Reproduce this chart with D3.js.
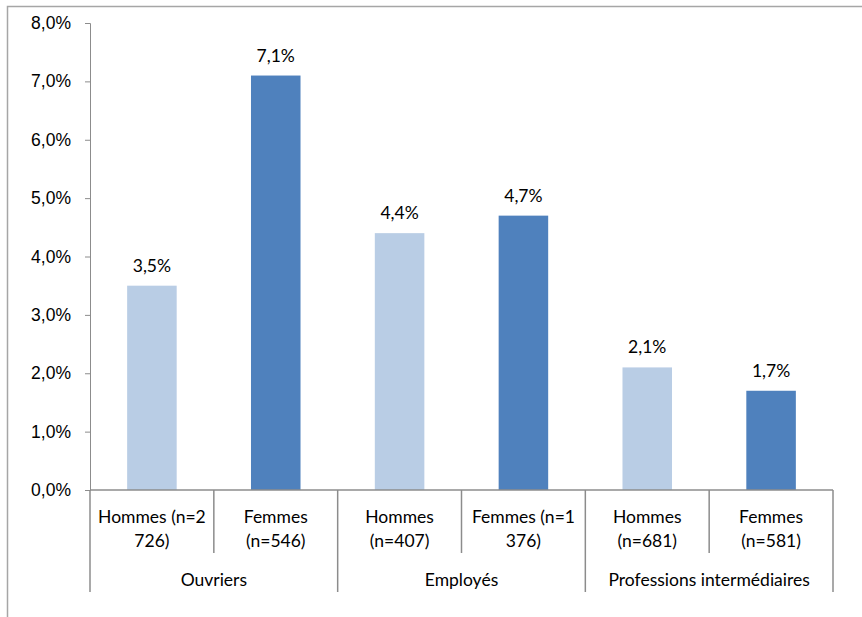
<!DOCTYPE html>
<html>
<head>
<meta charset="utf-8">
<script src="https://cdn.jsdelivr.net/npm/d3@7/dist/d3.min.js"></script>
<style>
  html, body { margin: 0; padding: 0; background: #fff; }
  svg { display: block; font-family: Lato, "Open Sans", sans-serif; }
</style>
</head>
<body>
<svg id="chart" width="862" height="617"></svg>
<script>
// Data: share per occupational group and sex
const groups = ["Ouvriers", "Employés", "Professions intermédiaires"];
const subLabels = [
  ["Hommes (n=2", "726)"], ["Femmes", "(n=546)"],
  ["Hommes", "(n=407)"], ["Femmes (n=1", "376)"],
  ["Hommes", "(n=681)"], ["Femmes", "(n=581)"]
];
const sexes = ["Hommes", "Femmes", "Hommes", "Femmes", "Hommes", "Femmes"];
const values = [3.5, 7.1, 4.4, 4.7, 2.1, 1.7];
const yTicks = [0, 1, 2, 3, 4, 5, 6, 7, 8];

const colors = { Hommes: "#B9CDE5", Femmes: "#4F81BD" };
const axisColor = "#8C8C8C";
const fontSize = "17.5px";
const fmt = v => v.toFixed(1).replace(".", ",") + "%";

const svg = d3.select("#chart");
const m = { left: 90, right: 833, top: 23, bottom: 490 };

// outer frame
svg.append("path")
  .attr("d", "M7.5,617 V6.5 H862")
  .attr("fill", "none").attr("stroke", "#A6A6A6").attr("stroke-width", 1.5);

const x = d3.scaleBand().domain(d3.range(values.length)).range([m.left, m.right]).paddingInner(0).paddingOuter(0);
const y = d3.scaleLinear().domain([0, 8]).range([m.bottom, m.top]);

// y axis
const yAxis = svg.append("g").attr("transform", `translate(${m.left},0)`)
  .call(d3.axisLeft(y).tickValues(yTicks).tickFormat(fmt).tickSize(5).tickPadding(14));
yAxis.select(".domain").attr("stroke", axisColor);
yAxis.selectAll(".tick line").attr("stroke", axisColor);
yAxis.selectAll(".tick text").attr("fill", "#000").style("font-size", fontSize);

// bars
const bw = x.bandwidth() * 0.4;
svg.append("g").selectAll("rect").data(values).join("rect")
  .attr("x", (d, i) => x(i) + (x.bandwidth() - bw) / 2)
  .attr("width", bw)
  .attr("y", d => y(d))
  .attr("height", d => y(0) - y(d))
  .attr("fill", (d, i) => colors[sexes[i]]);

// value labels
svg.append("g").selectAll("text").data(values).join("text")
  .attr("x", (d, i) => x(i) + x.bandwidth() / 2)
  .attr("y", d => y(d) - 14)
  .attr("text-anchor", "middle")
  .style("font-size", fontSize)
  .text(fmt);

// category axis (two levels)
const cat = svg.append("g");
cat.append("line")
  .attr("x1", m.left).attr("x2", m.right)
  .attr("y1", y(0)).attr("y2", y(0))
  .attr("stroke", axisColor).attr("stroke-width", 1.5);

// sub-category dividers
d3.range(values.length + 1).forEach(i => {
  const xp = i < values.length ? x(i) : m.right;
  const isGroupEdge = i % 2 === 0;
  cat.append("line")
    .attr("x1", xp).attr("x2", xp)
    .attr("y1", y(0)).attr("y2", isGroupEdge ? 592 : 553)
    .attr("stroke", axisColor).attr("stroke-width", 1.5);
});

// sub-category labels
subLabels.forEach((lines, i) => {
  const t = cat.append("text")
    .attr("x", x(i) + x.bandwidth() / 2)
    .attr("y", 523)
    .attr("text-anchor", "middle")
    .style("font-size", fontSize);
  lines.forEach((l, k) => t.append("tspan")
    .attr("x", x(i) + x.bandwidth() / 2)
    .attr("dy", k === 0 ? 0 : 24)
    .text(l));
});

// group labels
groups.forEach((g, gi) => {
  cat.append("text")
    .attr("x", x(gi * 2 + 1))
    .attr("y", 586)
    .attr("text-anchor", "middle")
    .style("font-size", fontSize)
    .text(g);
});
</script>
</body>
</html>
